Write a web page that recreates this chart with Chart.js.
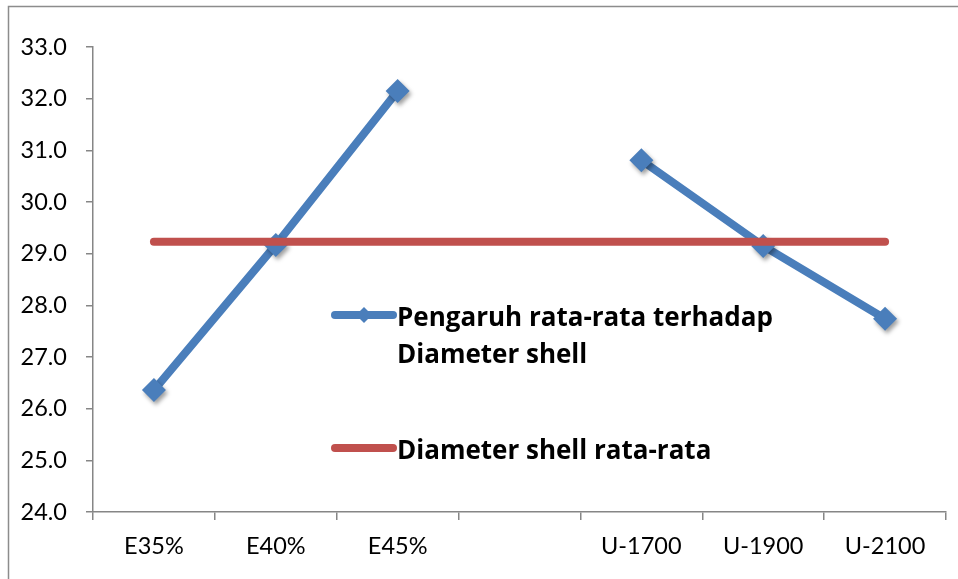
<!DOCTYPE html>
<html>
<head>
<meta charset="utf-8">
<title>Diameter shell</title>
<script src="https://cdn.jsdelivr.net/npm/chart.js@4/dist/chart.umd.min.js"></script>
<style>
  html, body { margin: 0; padding: 0; background: #fff; }
  #wrap { width: 958px; height: 579px; position: relative; }
</style>
</head>
<body>
<div id="wrap"><canvas id="c" width="958" height="579"></canvas></div>
<script>
// Categories along the x axis (the empty one separates the two factor groups)
const categories = ['E35%', 'E40%', 'E45%', '', 'U-1700', 'U-1900', 'U-2100'];

// Mean effect on shell diameter for each level
const effectValues = [26.36, 29.17, 32.15, null, 30.81, 29.15, 27.74];

// Overall mean shell diameter, drawn across every category
const meanValues = [29.23, 29.23, 29.23, 29.23, 29.23, 29.23, 29.23];

// Y axis range and step
const yMin = 24.0;
const yMax = 33.0;
const yStep = 1.0;

const effectLabel = 'Pengaruh rata-rata terhadap Diameter shell';
const effectLabelLines = ['Pengaruh rata-rata terhadap', 'Diameter shell'];
const meanLabel = 'Diameter shell rata-rata';

const BLUE = '#4a7ebb';
const RED = '#c0504d';
const AXIS = '#868686';
const FONT = 'Lato, "Liberation Sans", sans-serif';
const LEGEND_FONT = '"Open Sans", Lato, sans-serif';

// Drop shadow under the diamond markers
const markerShadow = {
  id: 'markerShadow',
  beforeDatasetDraw(chart, args) {
    if (chart.data.datasets[args.index].shadow) {
      const ctx = chart.ctx;
      ctx.save();
      ctx.shadowColor = 'rgba(0,0,0,0.38)';
      ctx.shadowBlur = 4;
      ctx.shadowOffsetX = 2;
      ctx.shadowOffsetY = 3;
    }
  },
  afterDatasetDraw(chart, args) {
    if (chart.data.datasets[args.index].shadow) {
      chart.ctx.restore();
    }
  }
};

// Outer frame of the chart
const frame = {
  id: 'frame',
  beforeDraw(chart) {
    const ctx = chart.ctx;
    ctx.save();
    ctx.strokeStyle = '#8c8c8c';
    ctx.lineWidth = 1.5;
    ctx.beginPath();
    ctx.moveTo(8.5, chart.height + 2);
    ctx.lineTo(8.5, 6.5);
    ctx.lineTo(chart.width + 2, 6.5);
    ctx.stroke();
    ctx.restore();
  }
};

// Legend placed inside the plot area, with the long label wrapped on two lines
const innerLegend = {
  id: 'innerLegend',
  afterDraw(chart) {
    const ctx = chart.ctx;
    const a = chart.chartArea;
    const x0 = a.left + 242;
    const x1 = x0 + 58;
    const tx = x1 + 4;
    const y1 = a.top + 268;
    const y2 = a.top + 401;
    const lh = 37;
    const base = 11;
    ctx.save();
    ctx.lineCap = 'round';
    ctx.lineWidth = 8;

    ctx.strokeStyle = BLUE;
    ctx.beginPath();
    ctx.moveTo(x0, y1);
    ctx.lineTo(x1, y1);
    ctx.stroke();
    ctx.fillStyle = BLUE;
    const cx = (x0 + x1) / 2, r = 8;
    ctx.beginPath();
    ctx.moveTo(cx - r, y1);
    ctx.lineTo(cx, y1 - r);
    ctx.lineTo(cx + r, y1);
    ctx.lineTo(cx, y1 + r);
    ctx.closePath();
    ctx.fill();

    ctx.strokeStyle = RED;
    ctx.beginPath();
    ctx.moveTo(x0, y2);
    ctx.lineTo(x1, y2);
    ctx.stroke();

    ctx.fillStyle = '#000';
    ctx.font = 'bold 26px ' + LEGEND_FONT;
    ctx.textBaseline = 'alphabetic';
    ctx.textAlign = 'left';
    effectLabelLines.forEach((t, i) => ctx.fillText(t, tx, y1 + base + i * lh));
    ctx.fillText(meanLabel, tx, y2 + base);
    ctx.restore();
  }
};

new Chart(document.getElementById('c'), {
  type: 'line',
  data: {
    labels: categories,
    datasets: [
      {
        label: meanLabel,
        data: meanValues,
        borderColor: RED,
        backgroundColor: RED,
        borderWidth: 8,
        borderCapStyle: 'round',
        pointRadius: 0,
        order: 0
      },
      {
        label: effectLabel,
        data: effectValues,
        borderColor: 'rgba(0,0,0,0)',
        backgroundColor: BLUE,
        showLine: false,
        pointStyle: 'rectRot',
        pointRadius: 12,
        pointBorderWidth: 0,
        shadow: true,
        order: 1
      },
      {
        label: effectLabel,
        data: effectValues,
        borderColor: BLUE,
        backgroundColor: BLUE,
        borderWidth: 8,
        pointRadius: 0,
        spanGaps: false,
        order: 2
      }
    ]
  },
  options: {
    responsive: false,
    animation: false,
    events: [],
    layout: { padding: { top: 47, right: 11, bottom: 0, left: 0 } },
    plugins: {
      legend: { display: false },
      tooltip: { enabled: false }
    },
    scales: {
      x: {
        type: 'category',
        offset: true,
        afterFit(s) { s.height = 67; },
        grid: {
          offset: true,
          drawOnChartArea: false,
          drawTicks: true,
          tickLength: 8,
          color: AXIS,
          lineWidth: 1.5
        },
        border: { color: AXIS, width: 1.5 },
        ticks: {
          color: '#000',
          font: { family: FONT, size: 23.5 },
          padding: 12,
          maxRotation: 0,
          autoSkip: false
        }
      },
      y: {
        min: yMin,
        max: yMax,
        afterFit(s) { s.width = 93; },
        grid: {
          drawOnChartArea: false,
          drawTicks: true,
          tickLength: 7,
          color: AXIS,
          lineWidth: 1.5
        },
        border: { color: AXIS, width: 1.5 },
        ticks: {
          stepSize: yStep,
          color: '#000',
          font: { family: FONT, size: 23.5 },
          padding: 19,
          callback: v => Number(v).toFixed(1)
        }
      }
    }
  },
  plugins: [frame, markerShadow, innerLegend]
});
</script>
</body>
</html>
